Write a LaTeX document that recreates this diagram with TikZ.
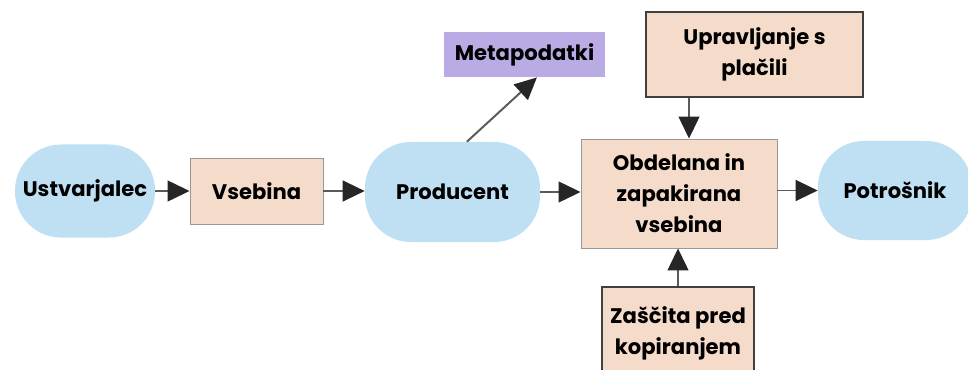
\documentclass[tikz,border=0pt]{standalone}
\usepackage{fontspec}
\setmainfont{Poppins}
\usetikzlibrary{arrows.meta}
\definecolor{modra}{HTML}{BFE0F3}
\definecolor{breskev}{HTML}{F5DBCA}
\definecolor{vijola}{HTML}{BBABE4}
\definecolor{crta}{HTML}{5A5A5A}

\begin{document}
\begin{tikzpicture}[x=0.025cm, y=-0.025cm,
  tok/.style={draw=crta, line width=1.4pt, -{Triangle[length=0.55cm, width=0.52cm, color=black!85]}},
  oseba/.style={fill=modra, rounded corners=1.15cm, inner sep=0pt, align=center, font=\bfseries\fontsize{15}{22}\selectfont},
  blok/.style={fill=breskev, draw=black!40, line width=0.6pt, inner sep=0pt, align=center, font=\bfseries\fontsize{15}{22}\selectfont},
  okvir/.style={blok, draw=black!75, line width=1.6pt}]
  \useasboundingbox (0,0) rectangle (968,369);
  % glavna vrsta
  \node[oseba, minimum width=3.5cm, minimum height=2.325cm] (ustv) at (85,191) {Ustvarjalec};
  \node[blok, minimum width=3.325cm, minimum height=1.65cm] (vseb) at (256.5,191) {Vsebina};
  \node[oseba, minimum width=4.375cm, minimum height=2.5cm] (prod) at (452.5,192) {Producent};
  \node[blok, minimum width=4.9cm, minimum height=2.725cm] (obd) at (679,193.5) {Obdelana in\\zapakirana\\vsebina};
  \node[oseba, minimum width=3.85cm, minimum height=2.475cm] (potr) at (895,190.5) {Potrošnik};
  % dodatni bloki
  \node[blok, draw=none, fill=vijola, minimum width=4.025cm, minimum height=1.125cm] (meta) at (524.5,54.5) {Metapodatki};
  \node[okvir, minimum width=5.425cm, minimum height=2.125cm] (upr) at (754.5,54.5) {Upravljanje s\\plačili};
  \node[okvir, minimum width=3.8cm, minimum height=2.3cm] (zasc) at (678,333) {Zaščita pred\\kopiranjem};
  % puscice
  \draw[tok] (ustv.east |- vseb.west) -- (vseb.west);
  \draw[tok] (vseb.east) -- (vseb.east -| prod.west);
  \draw[tok] (prod.east) -- (prod.east -| obd.west);
  \draw[tok] (obd.east |- potr.west) -- (potr.west);
  \draw[tok] ([xshift=0.36cm]prod.north) -- ([xshift=0.31cm]meta.south);
  \draw[tok] ([xshift=0.25cm]obd.north |- upr.south) -- ([xshift=0.25cm]obd.north);
  \draw[tok] (zasc.north) -- (zasc.north |- obd.south);
\end{tikzpicture}
\end{document}
